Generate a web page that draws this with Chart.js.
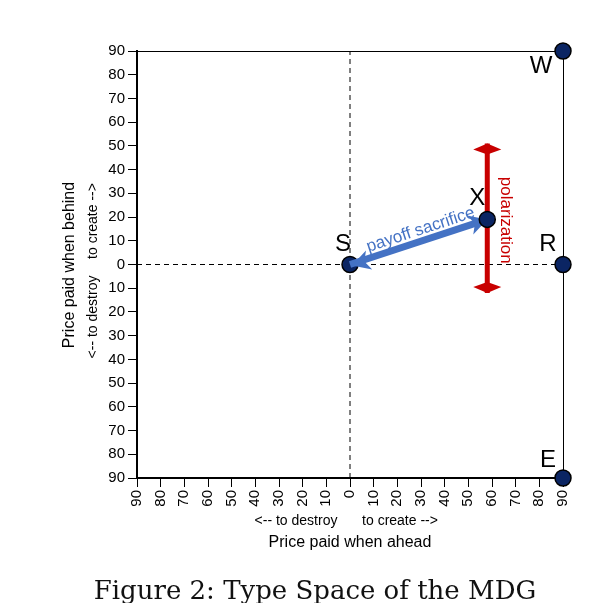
<!DOCTYPE html>
<html>
<head>
<meta charset="utf-8">
<script src="https://cdn.jsdelivr.net/npm/chart.js@4/dist/chart.umd.min.js"></script>
<style>
  html, body { margin: 0; padding: 0; background: #fff; }
  #wrap { position: relative; width: 602px; height: 603px; overflow: hidden; }
  #c { position: absolute; left: 0; top: 0; }
  #caption {
    position: absolute; left: 0; width: 630px; top: 575px; text-align: center;
    font-family: "DejaVu Serif", serif; font-size: 26px; color: #111; white-space: nowrap;
  }
</style>
</head>
<body>
<div id="wrap">
  <canvas id="c" width="602" height="603"></canvas>
  <div id="caption">Figure 2: Type Space of the MDG</div>
</div>
<script>
// type points
const pointNames = ['S', 'X', 'R', 'W', 'E'];
const pointX = [0, 58, 90, 90, 90];
const pointY = [0, 19, 0, 90, -90];

// polarization bar (x, y of both tips)
const polarX = [58, 58];
const polarY = [-12, 51];

// payoff sacrifice arrow, from S to X
const sacrificeX = [0, 58];
const sacrificeY = [0, 19];

// ticks shown on both axes (labels are absolute values)
const tickValues = [-90, -80, -70, -60, -50, -40, -30, -20, -10, 0, 10, 20, 30, 40, 50, 60, 70, 80, 90];

const NAVY = '#0b2563';
const BLUE = '#4472c4';
const RED = '#c80000';
const SANS = '"Liberation Sans", Arial, sans-serif';

const toXY = (xs, ys) => xs.map((x, i) => ({x, y: ys[i]}));
const pick = names => pointNames.map((n, i) => ({n, x: pointX[i], y: pointY[i]}))
  .filter(p => names.includes(p.n)).map(p => ({x: p.x, y: p.y, name: p.n}));

const pointStyle = {
  pointRadius: 8, pointHoverRadius: 8,
  pointBackgroundColor: NAVY, pointBorderColor: '#000', pointBorderWidth: 1.5,
  showLine: false, clip: false,
};

// letter offsets (px) from each point
const letterOffset = {S: [-7, -20], X: [-10, -21], R: [-15, -20], W: [-22, 15], E: [-15, -18]};

function head(ctx, tx, ty, angle, len, half, back) {
  ctx.save();
  ctx.translate(tx, ty);
  ctx.rotate(angle);
  ctx.beginPath();
  ctx.moveTo(0, 0);
  ctx.lineTo(-len, half);
  ctx.lineTo(-back, 0);
  ctx.lineTo(-len, -half);
  ctx.closePath();
  ctx.fill();
  ctx.restore();
}

const annot = {
  id: 'annot',
  beforeDatasetsDraw(chart) {
    const {ctx, chartArea: a} = chart;
    ctx.save();
    ctx.strokeStyle = '#000';
    ctx.lineWidth = 1;
    ctx.beginPath();
    ctx.moveTo(a.left, a.top + 0.5);
    ctx.lineTo(a.right + 0.5, a.top + 0.5);
    ctx.lineTo(a.right + 0.5, a.bottom);
    ctx.stroke();
    ctx.restore();
  },
  afterDatasetDraw(chart, args) {
    const ctx = chart.ctx;
    const ds = chart.data.datasets[args.index];
    const xs = chart.scales.x, ys = chart.scales.y;
    if (ds.role === 'polar') {
      ctx.save();
      ctx.fillStyle = RED;
      const p = ds.data.map(d => [xs.getPixelForValue(d.x), ys.getPixelForValue(d.y)]);
      head(ctx, p[0][0], p[0][1], Math.PI / 2, 6, 14, 11);
      head(ctx, p[1][0], p[1][1], -Math.PI / 2, 6, 14, 11);
      // label
      ctx.font = '17px ' + SANS;
      ctx.textAlign = 'center';
      ctx.textBaseline = 'middle';
      ctx.translate(p[0][0] + 18, (p[0][1] + p[1][1]) / 2 + 2);
      ctx.rotate(Math.PI / 2);
      ctx.fillText('polarization', 0, 0);
      ctx.restore();
    }
    if (ds.role === 'sacrifice') {
      ctx.save();
      ctx.fillStyle = BLUE;
      const p = ds.data.map(d => [xs.getPixelForValue(d.x), ys.getPixelForValue(d.y)]);
      const ang = Math.atan2(p[1][1] - p[0][1], p[1][0] - p[0][0]);
      head(ctx, p[0][0] + 2, p[0][1] + 1, ang + Math.PI, 18, 10, 13);
      head(ctx, p[1][0], p[1][1], ang, 18, 10, 13);
      ctx.font = '17px ' + SANS;
      ctx.textAlign = 'center';
      ctx.textBaseline = 'alphabetic';
      const mx = (p[0][0] + p[1][0]) / 2 + 6, my = (p[0][1] + p[1][1]) / 2;
      ctx.translate(mx, my);
      ctx.rotate(ang);
      ctx.fillText('payoff sacrifice', 0, -8);
      ctx.restore();
    }
  },
  afterDraw(chart) {
    const ctx = chart.ctx;
    const xs = chart.scales.x, ys = chart.scales.y;
    ctx.save();
    ctx.fillStyle = '#000';
    ctx.textAlign = 'center';
    ctx.textBaseline = 'middle';
    ctx.font = '24px ' + SANS;
    pointNames.forEach((n, i) => {
      const o = letterOffset[n];
      ctx.fillText(n, xs.getPixelForValue(pointX[i]) + o[0], ys.getPixelForValue(pointY[i]) + o[1]);
    });
    // x axis titles
    ctx.font = '14px ' + SANS;
    ctx.fillText('<-- to destroy', 296, 521);
    ctx.fillText('to create -->', 400, 521);
    ctx.font = '16px ' + SANS;
    ctx.fillText('Price paid when ahead', 350, 543);
    // y axis titles
    ctx.save();
    ctx.translate(70, 265);
    ctx.rotate(-Math.PI / 2);
    ctx.fillText('Price paid when behind', 0, 0);
    ctx.restore();
    ctx.font = '14px ' + SANS;
    ctx.save();
    ctx.translate(93, 317);
    ctx.rotate(-Math.PI / 2);
    ctx.fillText('<-- to destroy', 0, 0);
    ctx.restore();
    ctx.save();
    ctx.translate(93, 221);
    ctx.rotate(-Math.PI / 2);
    ctx.fillText('to create -->', 0, 0);
    ctx.restore();
    ctx.restore();
  }
};

const tickFont = {family: SANS, size: 15};

new Chart(document.getElementById('c'), {
  type: 'scatter',
  data: {
    datasets: [
      {label: 'zero x', data: toXY([-90, 90], [0, 0]), showLine: true, borderColor: '#000', borderWidth: 1,
        borderDash: [5, 4], pointRadius: 0, order: 10},
      {label: 'zero y', data: toXY([0, 0], [-90, 90]), showLine: true, borderColor: '#000', borderWidth: 1,
        borderDash: [5, 4], pointRadius: 0, order: 10},
      {label: 'polarization', role: 'polar', data: toXY(polarX, polarY), showLine: true, borderColor: RED,
        borderWidth: 5, pointRadius: 0, order: 8},
      {label: 'S', data: pick(['S']), ...pointStyle, order: 7},
      {label: 'payoff sacrifice', role: 'sacrifice', data: toXY(sacrificeX, sacrificeY), showLine: true,
        borderColor: BLUE, borderWidth: 7, pointRadius: 0, order: 6, clip: false},
      {label: 'others', data: pick(['X', 'R', 'W', 'E']), ...pointStyle, order: 5},
    ]
  },
  options: {
    responsive: false,
    animation: false,
    events: [],
    layout: {padding: {top: 51, right: 39, left: 0, bottom: 0}},
    plugins: {legend: {display: false}, tooltip: {enabled: false}},
    scales: {
      x: {
        type: 'linear', min: -90, max: 90,
        afterBuildTicks: s => { s.ticks = tickValues.map(v => ({value: v})); },
        afterFit: s => { s.height = 125; },
        ticks: {callback: v => String(Math.abs(v)), font: tickFont, color: '#000',
          minRotation: 90, maxRotation: 90, autoSkip: false, padding: 3},
        grid: {drawOnChartArea: false, drawTicks: true, tickLength: 9, color: '#000', lineWidth: 1},
        border: {display: true, color: '#000', width: 2}
      },
      y: {
        type: 'linear', min: -90, max: 90,
        afterBuildTicks: s => { s.ticks = tickValues.map(v => ({value: v})); },
        afterFit: s => { s.width = 137; },
        ticks: {callback: v => String(Math.abs(v)), font: tickFont, color: '#000', autoSkip: false, padding: 3},
        grid: {drawOnChartArea: false, drawTicks: true, tickLength: 9, color: '#000', lineWidth: 1},
        border: {display: true, color: '#000', width: 2}
      }
    }
  },
  plugins: [annot]
});
</script>
</body>
</html>
